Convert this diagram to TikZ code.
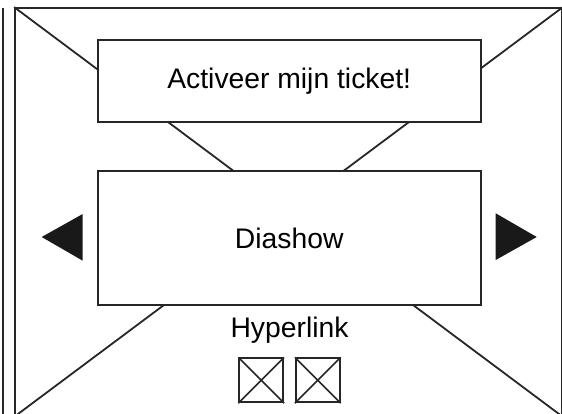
\documentclass[tikz,border=0pt]{standalone}
\usepackage{fontspec}
\setmainfont{Liberation Sans}
\usetikzlibrary{positioning}

\tikzset{
	wire/.style={line width=1.8pt, draw=black!85},
	panel/.style={wire, fill=white, minimum width=383pt, font=\fontsize{28.3}{32}\selectfont},
	imgbox/.style={wire, fill=white, minimum width=44pt, minimum height=44pt, inner sep=0pt},
}

\begin{document}
\begin{tikzpicture}[x=1pt,y=-1pt]
	\useasboundingbox (0,0) rectangle (562,414);
	% screen with placeholder cross
	\node[wire, minimum width=547pt, minimum height=408pt, inner sep=0pt] (screen) at (288.5,212) {};
	\draw[wire] (screen.north west) -- (screen.south east);
	\draw[wire] (screen.north east) -- (screen.south west);
	\draw[wire] (3,8) -- (3,420);
	% panels
	\node[panel, minimum height=82pt] (ticket) at (289.2,81) {Activeer mijn ticket!};
	\node[panel, minimum height=134pt] (slides) at (289.2,238) {Diashow};
	% slide arrows
	\fill[black!90] (82.7,214) -- (41.7,237) -- (82.7,260.7) -- cycle;
	\fill[black!90] (495.7,213.3) -- (536.7,237) -- (495.7,260) -- cycle;
	% hyperlink
	\node[font=\fontsize{28.3}{32}\selectfont] (link) at (289.5,330) {Hyperlink};
	\node[imgbox] (icon1) at (261.2,380.3) {};
	\node[imgbox] (icon2) at (317.8,380.3) {};
	\draw[wire, line width=1.6pt] (icon1.north west) -- (icon1.south east) (icon1.north east) -- (icon1.south west);
	\draw[wire, line width=1.6pt] (icon2.north west) -- (icon2.south east) (icon2.north east) -- (icon2.south west);
\end{tikzpicture}
\end{document}
